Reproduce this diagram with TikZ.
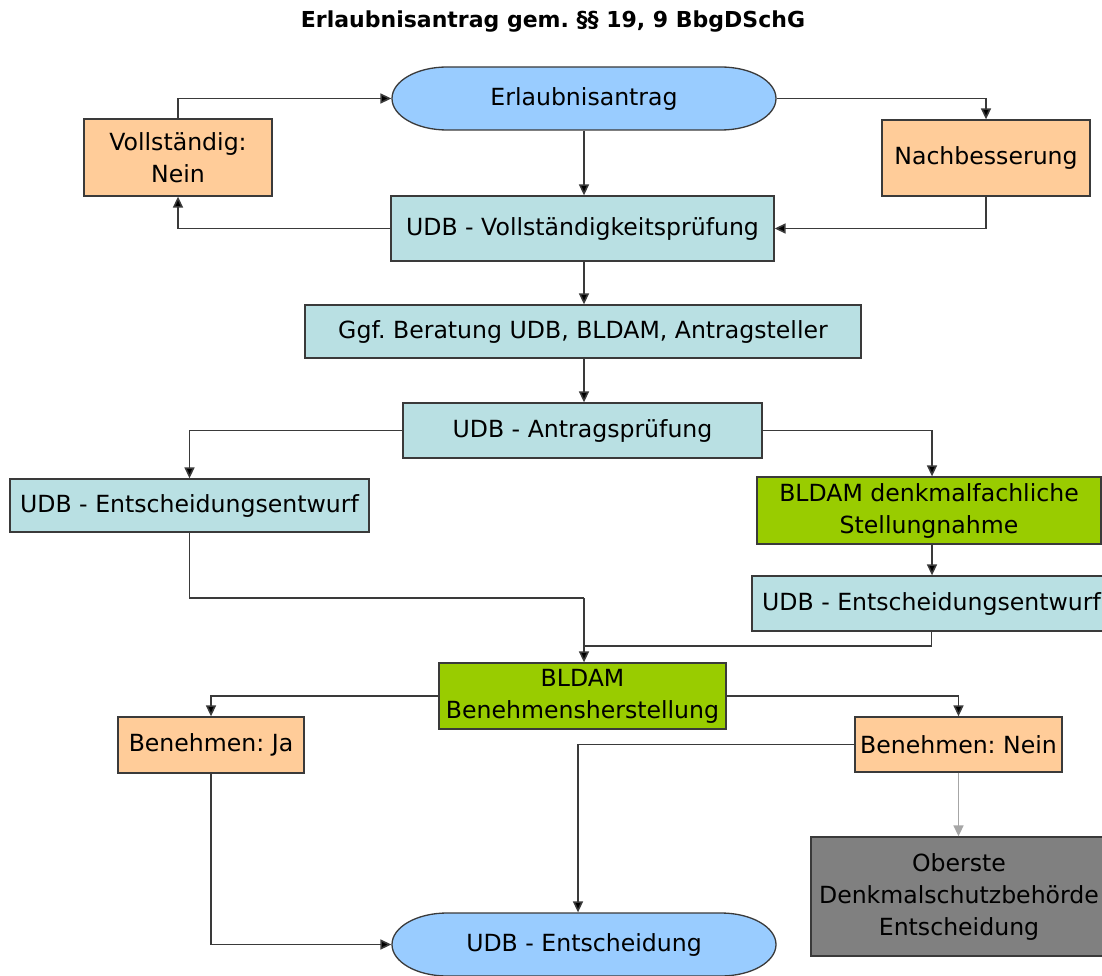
\documentclass[tikz,border=0pt]{standalone}
\usepackage{fontspec}
\setmainfont{DejaVu Sans}
\usetikzlibrary{arrows.meta}
\frenchspacing
\definecolor{peach}{HTML}{FFCC99}
\definecolor{skyb}{HTML}{99CCFF}
\definecolor{teal1}{HTML}{B9E0E3}
\definecolor{lime1}{HTML}{99CC00}
\definecolor{gray1}{HTML}{808080}
\definecolor{line1}{HTML}{3A3A3A}
\newcommand{\pillshape}[2]{%
  \path[fill=skyb, draw=line1, line width=1.3pt]
    (#1-137,#2-31.5) -- (#1+137,#2-31.5)
    arc[start angle=90, end angle=-90, x radius=55pt, y radius=31.5pt]
    -- (#1-137,#2+31.5)
    arc[start angle=270, end angle=90, x radius=55pt, y radius=31.5pt] -- cycle;}
\begin{document}
\begin{tikzpicture}[x=1pt,y=-1pt,
  box/.style={draw=line1, line width=1.3pt, inner sep=0pt, align=center,
    font=\fontsize{23.6}{32}\selectfont},
  pill/.style={box, draw=none},
  conn/.style={draw=line1, line width=1.6pt, -{Triangle[length=11pt,width=10pt,fill=black]}},
  plain/.style={draw=line1, line width=1.6pt}]
\useasboundingbox (0,0) rectangle (1102,976);
\begin{scope}
\clip (0,0) rectangle (1102,976);
\node[font=\bfseries\fontsize{22}{26}\selectfont] (title) at (553,22) {Erlaubnisantrag gem. §§ 19, 9 BbgDSchG};

\pillshape{584}{98.5}
\pillshape{584}{944.5}
\node[pill, minimum width=384pt, minimum height=63pt] (erl) at (584,98.5) {Erlaubnisantrag};
\node[box, fill=peach, minimum width=188pt, minimum height=77pt] (voll) at (178,157.5) {Vollständig:\\Nein};
\node[box, fill=peach, minimum width=208pt, minimum height=76pt] (nach) at (986,158) {Nachbesserung};
\node[box, fill=teal1, minimum width=383pt, minimum height=65pt] (udbv) at (582.5,228.5) {UDB - Vollständigkeitsprüfung};
\node[box, fill=teal1, minimum width=556pt, minimum height=53pt] (ggf) at (583,331.5) {Ggf. Beratung UDB, BLDAM, Antragsteller};
\node[box, fill=teal1, minimum width=359pt, minimum height=55pt] (antr) at (582.5,430.5) {UDB - Antragsprüfung};
\node[box, fill=teal1, minimum width=359pt, minimum height=53pt] (lent) at (189.5,505.5) {UDB - Entscheidungsentwurf};
\node[box, fill=lime1, minimum width=344pt, minimum height=67pt] (bst) at (929,510.5) {BLDAM denkmalfachliche\\Stellungnahme};
\node[box, fill=teal1, minimum width=359pt, minimum height=55pt] (rent) at (931.5,603.5) {UDB - Entscheidungsentwurf};
\node[box, fill=lime1, minimum width=287pt, minimum height=66pt] (benh) at (582.5,696) {BLDAM\\Benehmensherstellung};
\node[box, fill=peach, minimum width=186pt, minimum height=56pt] (ja) at (211,745) {Benehmen: Ja};
\node[box, fill=peach, minimum width=207pt, minimum height=55pt] (nein) at (958.5,744.5) {Benehmen: Nein};
\node[box, fill=gray1, minimum width=296pt, minimum height=119pt] (obe) at (959,896.5) {Oberste\\Denkmalschutzbehörde\\Entscheidung};
\node[pill, minimum width=384pt, minimum height=63pt] (ent) at (584,944.5) {UDB - Entscheidung};

\coordinate (j1) at (584,598);
\coordinate (j2) at (584,646);

\draw[conn] (voll.north) |- (erl.west);
\draw[conn] (erl.east) -| (nach.north);
\draw[conn] (erl.south) -- (erl.south |- udbv.north);
\draw[conn] (udbv.west) -| (voll.south);
\draw[conn] (nach.south) |- (udbv.east);
\draw[conn] (erl.south |- udbv.south) -- (erl.south |- ggf.north);
\draw[conn] (erl.south |- ggf.south) -- (erl.south |- antr.north);
\draw[conn] (antr.west) -| (lent.north);
\draw[conn] (antr.east) -| ([xshift=3pt]bst.north);
\draw[conn] ([xshift=3pt]bst.south) -- ([xshift=3pt]bst.south |- rent.north);
\draw[plain] (lent.south) |- (j1);
\draw[conn] (j1) -- (j1 |- benh.north);
\draw[plain] (rent.south) |- (j2);
\draw[conn] (benh.west) -| (ja.north);
\draw[conn] (benh.east) -| (nein.north);
\draw[conn] (nein.west) -| ([xshift=-6pt]ent.north);
\draw[conn] (ja.south) |- (ent.west);
\draw[conn, draw=gray!70, -{Triangle[length=11pt,width=10pt,fill=gray!70]}] (nein.south) -- (nein.south |- obe.north);
\end{scope}
\end{tikzpicture}
\end{document}
